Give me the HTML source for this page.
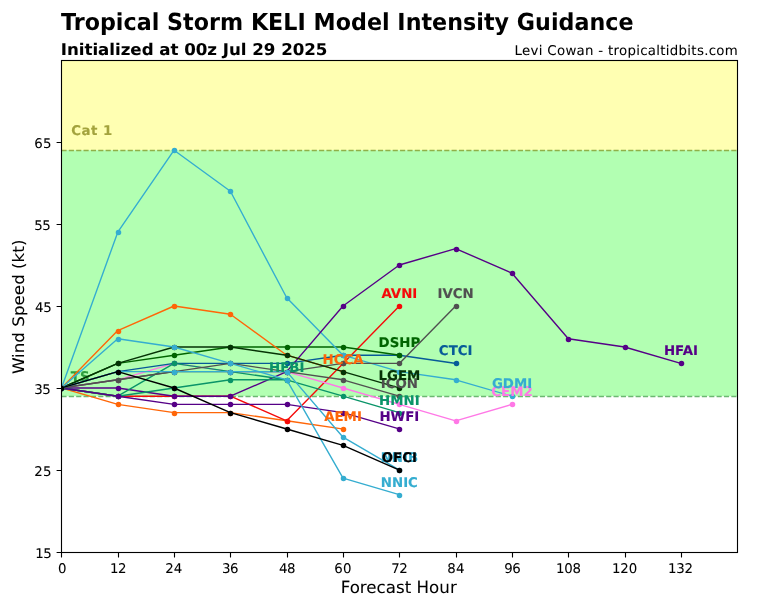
<!DOCTYPE html>
<html lang="en"><head><meta charset="utf-8"><title>Tropical Storm KELI Model Intensity Guidance</title>
<style>html,body{margin:0;padding:0;background:#fff}body{width:768px;height:600px;overflow:hidden}svg{display:block}</style></head>
<body>
<svg width="768" height="600" viewBox="0 0 768 600" font-family='"DejaVu Sans", "Liberation Sans", sans-serif' text-rendering="geometricPrecision">
<rect width="768" height="600" fill="#fff"/>
<rect x="61.44" y="60.00" width="675.84" height="90.20" fill="#ffffb2"/>
<rect x="61.44" y="150.20" width="675.84" height="246.00" fill="#b2ffb2"/>
<path d="M61.44 396.5H737.28" stroke="#6cb872" stroke-width="1.389" stroke-dasharray="5.139 2.222" fill="none"/>
<path d="M61.44 150.5H737.28" stroke="#90b048" stroke-width="1.389" stroke-dasharray="5.139 2.222" fill="none"/>
<g font-weight="bold" font-size="13.33px" stroke-width="0.13">
<text x="70.83" y="381" text-anchor="start" fill="#2f9e3f" stroke="#2f9e3f">TS</text>
<text x="71.22" y="135.00" textLength="41.00" lengthAdjust="spacing" fill="#a3a33d" stroke="#a3a33d">Cat 1</text>
</g>
<clipPath id="ax"><rect x="61.44" y="60.00" width="675.84" height="492.00"/></clipPath>
<g clip-path="url(#ax)" fill="none" stroke-width="1.389" stroke-linejoin="round" stroke-linecap="square">
<g stroke="#FF6608" fill="#FF6608"><polyline points="61.44,388.00 117.76,404.40 174.08,412.60 230.40,412.60 286.72,420.80 343.04,429.00" fill="none"/>
<circle cx="61.5" cy="388.5" r="2.085"/><circle cx="118.5" cy="404.5" r="2.085"/><circle cx="174.5" cy="413.5" r="2.085"/><circle cx="230.5" cy="413.5" r="2.085"/><circle cx="287.5" cy="421.5" r="2.085"/><circle cx="343.5" cy="429.5" r="2.085"/></g>
<g stroke="#F50A0A" fill="#F50A0A"><polyline points="61.44,388.00 117.76,396.20 174.08,396.20 230.40,396.20 286.72,420.80 343.04,363.40 399.36,306.00" fill="none"/>
<circle cx="61.5" cy="388.5" r="2.085"/><circle cx="118.5" cy="396.5" r="2.085"/><circle cx="174.5" cy="396.5" r="2.085"/><circle cx="230.5" cy="396.5" r="2.085"/><circle cx="287.5" cy="421.5" r="2.085"/><circle cx="343.5" cy="363.5" r="2.085"/><circle cx="399.5" cy="306.5" r="2.085"/></g>
<g stroke="#FF78E6" fill="#FF78E6"><polyline points="61.44,388.00 117.76,379.80 174.08,363.40 230.40,371.60 286.72,371.60 343.04,388.00 399.36,404.40 455.68,420.80 512.00,404.40" fill="none"/>
<circle cx="61.5" cy="388.5" r="2.085"/><circle cx="118.5" cy="380.5" r="2.085"/><circle cx="174.5" cy="363.5" r="2.085"/><circle cx="230.5" cy="372.5" r="2.085"/><circle cx="287.5" cy="372.5" r="2.085"/><circle cx="343.5" cy="388.5" r="2.085"/><circle cx="399.5" cy="404.5" r="2.085"/><circle cx="456.5" cy="421.5" r="2.085"/><circle cx="512.5" cy="404.5" r="2.085"/></g>
<g stroke="#075B98" fill="#075B98"><polyline points="61.44,388.00 117.76,371.60 174.08,363.40 230.40,363.40 286.72,363.40 343.04,355.20 399.36,355.20 455.68,363.40" fill="none"/>
<circle cx="61.5" cy="388.5" r="2.085"/><circle cx="118.5" cy="372.5" r="2.085"/><circle cx="174.5" cy="363.5" r="2.085"/><circle cx="230.5" cy="363.5" r="2.085"/><circle cx="287.5" cy="363.5" r="2.085"/><circle cx="343.5" cy="355.5" r="2.085"/><circle cx="399.5" cy="355.5" r="2.085"/><circle cx="456.5" cy="363.5" r="2.085"/></g>
<g stroke="#006400" fill="#006400"><polyline points="61.44,388.00 117.76,363.40 174.08,355.20 230.40,347.00 286.72,347.00 343.04,347.00 399.36,355.20" fill="none"/>
<circle cx="61.5" cy="388.5" r="2.085"/><circle cx="118.5" cy="363.5" r="2.085"/><circle cx="174.5" cy="355.5" r="2.085"/><circle cx="230.5" cy="347.5" r="2.085"/><circle cx="287.5" cy="347.5" r="2.085"/><circle cx="343.5" cy="347.5" r="2.085"/><circle cx="399.5" cy="355.5" r="2.085"/></g>
<g stroke="#35ADD0" fill="#35ADD0"><polyline points="61.44,388.00 117.76,232.20 174.08,150.20 230.40,191.20 286.72,297.80 343.04,355.20 399.36,371.60 455.68,379.80 512.00,396.20" fill="none"/>
<circle cx="61.5" cy="388.5" r="2.085"/><circle cx="118.5" cy="232.5" r="2.085"/><circle cx="174.5" cy="150.5" r="2.085"/><circle cx="230.5" cy="191.5" r="2.085"/><circle cx="287.5" cy="298.5" r="2.085"/><circle cx="343.5" cy="355.5" r="2.085"/><circle cx="399.5" cy="372.5" r="2.085"/><circle cx="456.5" cy="380.5" r="2.085"/><circle cx="512.5" cy="396.5" r="2.085"/></g>
<g stroke="#FF6608" fill="#FF6608"><polyline points="61.44,388.00 117.76,330.60 174.08,306.00 230.40,314.20 286.72,355.20 343.04,371.60" fill="none"/>
<circle cx="61.5" cy="388.5" r="2.085"/><circle cx="118.5" cy="331.5" r="2.085"/><circle cx="174.5" cy="306.5" r="2.085"/><circle cx="230.5" cy="314.5" r="2.085"/><circle cx="287.5" cy="355.5" r="2.085"/><circle cx="343.5" cy="372.5" r="2.085"/></g>
<g stroke="#560087" fill="#560087"><polyline points="61.44,388.00 117.76,388.00 174.08,396.20 230.40,396.20 286.72,371.60 343.04,306.00 399.36,265.00 455.68,248.60 512.00,273.20 568.32,338.80 624.64,347.00 680.96,363.40" fill="none"/>
<circle cx="61.5" cy="388.5" r="2.085"/><circle cx="118.5" cy="388.5" r="2.085"/><circle cx="174.5" cy="396.5" r="2.085"/><circle cx="230.5" cy="396.5" r="2.085"/><circle cx="287.5" cy="372.5" r="2.085"/><circle cx="343.5" cy="306.5" r="2.085"/><circle cx="399.5" cy="265.5" r="2.085"/><circle cx="456.5" cy="249.5" r="2.085"/><circle cx="512.5" cy="273.5" r="2.085"/><circle cx="568.5" cy="339.5" r="2.085"/><circle cx="625.5" cy="347.5" r="2.085"/><circle cx="681.5" cy="363.5" r="2.085"/></g>
<g stroke="#0A9468" fill="#0A9468"><polyline points="61.44,388.00 117.76,396.20 174.08,388.00 230.40,379.80 286.72,379.80" fill="none"/>
<circle cx="61.5" cy="388.5" r="2.085"/><circle cx="118.5" cy="396.5" r="2.085"/><circle cx="174.5" cy="388.5" r="2.085"/><circle cx="230.5" cy="380.5" r="2.085"/><circle cx="287.5" cy="380.5" r="2.085"/></g>
<g stroke="#0A9468" fill="#0A9468"><polyline points="61.44,388.00 117.76,396.20 174.08,363.40 230.40,371.60 286.72,379.80 343.04,396.20 399.36,412.60" fill="none"/>
<circle cx="61.5" cy="388.5" r="2.085"/><circle cx="118.5" cy="396.5" r="2.085"/><circle cx="174.5" cy="363.5" r="2.085"/><circle cx="230.5" cy="372.5" r="2.085"/><circle cx="287.5" cy="380.5" r="2.085"/><circle cx="343.5" cy="396.5" r="2.085"/><circle cx="399.5" cy="413.5" r="2.085"/></g>
<g stroke="#560087" fill="#560087"><polyline points="61.44,388.00 117.76,396.20 174.08,404.40 230.40,404.40 286.72,404.40 343.04,412.60 399.36,429.00" fill="none"/>
<circle cx="61.5" cy="388.5" r="2.085"/><circle cx="118.5" cy="396.5" r="2.085"/><circle cx="174.5" cy="404.5" r="2.085"/><circle cx="230.5" cy="404.5" r="2.085"/><circle cx="287.5" cy="404.5" r="2.085"/><circle cx="343.5" cy="413.5" r="2.085"/><circle cx="399.5" cy="429.5" r="2.085"/></g>
<g stroke="#505050" fill="#505050"><polyline points="61.44,388.00 117.76,379.80 174.08,371.60 230.40,371.60 286.72,371.60 343.04,379.80 399.36,396.20" fill="none"/>
<circle cx="61.5" cy="388.5" r="2.085"/><circle cx="118.5" cy="380.5" r="2.085"/><circle cx="174.5" cy="372.5" r="2.085"/><circle cx="230.5" cy="372.5" r="2.085"/><circle cx="287.5" cy="372.5" r="2.085"/><circle cx="343.5" cy="380.5" r="2.085"/><circle cx="399.5" cy="396.5" r="2.085"/></g>
<g stroke="#505050" fill="#505050"><polyline points="61.44,388.00 117.76,379.80 174.08,371.60 230.40,363.40 286.72,371.60 343.04,363.40 399.36,363.40 455.68,306.00" fill="none"/>
<circle cx="61.5" cy="388.5" r="2.085"/><circle cx="118.5" cy="380.5" r="2.085"/><circle cx="174.5" cy="372.5" r="2.085"/><circle cx="230.5" cy="363.5" r="2.085"/><circle cx="287.5" cy="372.5" r="2.085"/><circle cx="343.5" cy="363.5" r="2.085"/><circle cx="399.5" cy="363.5" r="2.085"/><circle cx="456.5" cy="306.5" r="2.085"/></g>
<g stroke="#053305" fill="#053305"><polyline points="61.44,388.00 117.76,363.40 174.08,347.00 230.40,347.00 286.72,355.20 343.04,371.60 399.36,388.00" fill="none"/>
<circle cx="61.5" cy="388.5" r="2.085"/><circle cx="118.5" cy="363.5" r="2.085"/><circle cx="174.5" cy="347.5" r="2.085"/><circle cx="230.5" cy="347.5" r="2.085"/><circle cx="287.5" cy="355.5" r="2.085"/><circle cx="343.5" cy="372.5" r="2.085"/><circle cx="399.5" cy="388.5" r="2.085"/></g>
<g stroke="#35ADD0" fill="#35ADD0"><polyline points="61.44,388.00 117.76,371.60 174.08,371.60 230.40,371.60 286.72,371.60 343.04,437.20 399.36,470.00" fill="none"/>
<circle cx="61.5" cy="388.5" r="2.085"/><circle cx="118.5" cy="372.5" r="2.085"/><circle cx="174.5" cy="372.5" r="2.085"/><circle cx="230.5" cy="372.5" r="2.085"/><circle cx="287.5" cy="372.5" r="2.085"/><circle cx="343.5" cy="437.5" r="2.085"/><circle cx="399.5" cy="470.5" r="2.085"/></g>
<g stroke="#35ADD0" fill="#35ADD0"><polyline points="61.44,388.00 117.76,338.80 174.08,347.00 230.40,363.40 286.72,379.80 343.04,478.20 399.36,494.60" fill="none"/>
<circle cx="61.5" cy="388.5" r="2.085"/><circle cx="118.5" cy="339.5" r="2.085"/><circle cx="174.5" cy="347.5" r="2.085"/><circle cx="230.5" cy="363.5" r="2.085"/><circle cx="287.5" cy="380.5" r="2.085"/><circle cx="343.5" cy="478.5" r="2.085"/><circle cx="399.5" cy="495.5" r="2.085"/></g>
<g stroke="#000000" fill="#000000"><polyline points="61.44,388.00 117.76,371.60 174.08,388.00 230.40,412.60 286.72,429.00 343.04,445.40 399.36,470.00" fill="none"/>
<circle cx="61.5" cy="388.5" r="2.085"/><circle cx="118.5" cy="372.5" r="2.085"/><circle cx="174.5" cy="388.5" r="2.085"/><circle cx="230.5" cy="413.5" r="2.085"/><circle cx="287.5" cy="429.5" r="2.085"/><circle cx="343.5" cy="445.5" r="2.085"/><circle cx="399.5" cy="470.5" r="2.085"/></g>
</g>
<g font-weight="bold" font-size="13.33px" stroke-width="0.13">
<text x="343.04" y="421" text-anchor="middle" fill="#FF6608" stroke="#FF6608">AEMI</text>
<text x="399.36" y="298" text-anchor="middle" fill="#F50A0A" stroke="#F50A0A">AVNI</text>
<text x="512.00" y="396" text-anchor="middle" fill="#FF78E6" stroke="#FF78E6">CEM2</text>
<text x="455.68" y="355" text-anchor="middle" fill="#075B98" stroke="#075B98">CTCI</text>
<text x="399.36" y="347" text-anchor="middle" fill="#006400" stroke="#006400">DSHP</text>
<text x="512.00" y="388" text-anchor="middle" fill="#35ADD0" stroke="#35ADD0">GDMI</text>
<text x="343.04" y="364" text-anchor="middle" fill="#FF6608" stroke="#FF6608">HCCA</text>
<text x="680.96" y="355" text-anchor="middle" fill="#560087" stroke="#560087">HFAI</text>
<text x="286.72" y="372" text-anchor="middle" fill="#0A9468" stroke="#0A9468">HFBI</text>
<text x="399.36" y="405" text-anchor="middle" fill="#0A9468" stroke="#0A9468">HMNI</text>
<text x="399.36" y="421" text-anchor="middle" fill="#560087" stroke="#560087">HWFI</text>
<text x="399.36" y="388" text-anchor="middle" fill="#505050" stroke="#505050">ICON</text>
<text x="455.68" y="298" text-anchor="middle" fill="#505050" stroke="#505050">IVCN</text>
<text x="399.36" y="380" text-anchor="middle" fill="#053305" stroke="#053305">LGEM</text>
<text x="399.36" y="462" text-anchor="middle" fill="#35ADD0" stroke="#35ADD0">NNIB</text>
<text x="399.36" y="487" text-anchor="middle" fill="#35ADD0" stroke="#35ADD0">NNIC</text>
<text x="399.36" y="462" text-anchor="middle" fill="#000000" stroke="#000000">OFCI</text>
</g>
<rect x="61.5" y="60.5" width="676" height="492" fill="none" stroke="#000" stroke-width="1.11"/>
<path d="M61.5 552.5v4.9M118.5 552.5v4.9M174.5 552.5v4.9M230.5 552.5v4.9M287.5 552.5v4.9M343.5 552.5v4.9M399.5 552.5v4.9M456.5 552.5v4.9M512.5 552.5v4.9M568.5 552.5v4.9M625.5 552.5v4.9M681.5 552.5v4.9M61.5 552.5h-4.9M61.5 470.5h-4.9M61.5 388.5h-4.9M61.5 306.5h-4.9M61.5 224.5h-4.9M61.5 142.5h-4.9" stroke="#000" stroke-width="1.11" fill="none"/>
<g font-size="13.33px" fill="#000" stroke="#000" stroke-width="0.06">
<text x="57.98" y="573" textLength="8.08" lengthAdjust="spacing">0</text>
<text x="109.92" y="573" textLength="16.57" lengthAdjust="spacing">12</text>
<text x="165.30" y="573" textLength="16.97" lengthAdjust="spacing">24</text>
<text x="221.88" y="573" textLength="16.57" lengthAdjust="spacing">36</text>
<text x="279.03" y="573" textLength="16.57" lengthAdjust="spacing">48</text>
<text x="334.26" y="573" textLength="17.17" lengthAdjust="spacing">60</text>
<text x="391.27" y="573" textLength="16.57" lengthAdjust="spacing">72</text>
<text x="447.36" y="573" textLength="17.17" lengthAdjust="spacing">84</text>
<text x="504.15" y="573" textLength="16.57" lengthAdjust="spacing">96</text>
<text x="556.00" y="573" textLength="25.05" lengthAdjust="spacing">108</text>
<text x="611.99" y="573" textLength="25.25" lengthAdjust="spacing">120</text>
<text x="668.05" y="573" textLength="25.05" lengthAdjust="spacing">132</text>
<text x="35.17" y="558" textLength="16.57" lengthAdjust="spacing">15</text>
<text x="34.30" y="476" textLength="17.17" lengthAdjust="spacing">25</text>
<text x="34.27" y="394" textLength="16.57" lengthAdjust="spacing">35</text>
<text x="35.05" y="312" textLength="16.57" lengthAdjust="spacing">45</text>
<text x="34.27" y="230" textLength="16.57" lengthAdjust="spacing">55</text>
<text x="34.18" y="148" textLength="17.37" lengthAdjust="spacing">65</text>
<text x="514.62" y="55.00" textLength="223.12" lengthAdjust="spacing">Levi Cowan - tropicaltidbits.com</text>
</g>
<g font-size="16.67px" fill="#000" stroke="#000" stroke-width="0.06">
<text x="340.65" y="593.00" textLength="116.10" lengthAdjust="spacing">Forecast Hour</text>
<text transform="translate(24.30 374.05) rotate(-90) scale(1 0.95)" textLength="134.45" lengthAdjust="spacing">Wind Speed (kt)</text>
<text transform="translate(60.84 55.00) scale(1 0.97)" textLength="266.58" lengthAdjust="spacing" font-weight="bold">Initialized at 00z Jul 29 2025</text>
</g>
<text transform="translate(60.94 30.00) scale(1 1.055)" textLength="572.63" lengthAdjust="spacing" font-size="22.22px" font-weight="bold">Tropical Storm KELI Model Intensity Guidance</text>
</svg>
</body></html>
